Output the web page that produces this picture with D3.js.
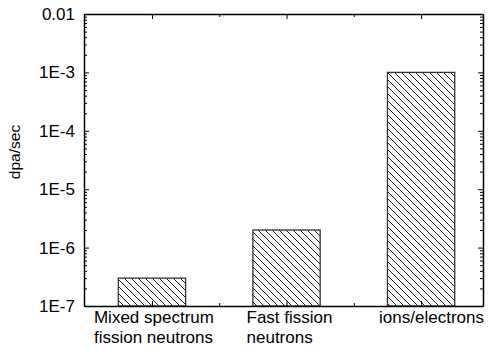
<!DOCTYPE html>
<html>
<head>
<meta charset="utf-8">
<script src="https://cdnjs.cloudflare.com/ajax/libs/d3/7.8.5/d3.min.js"></script>
<style>
  body { margin: 0; background: #fff; }
  text { font-family: "Liberation Sans", Arial, sans-serif; fill: #000; }
</style>
</head>
<body>
<div id="chart"></div>
<script>
// data
const categories = [["Mixed spectrum", "fission neutrons"], ["Fast fission", "neutrons"], ["ions/electrons"]];
const positions = [1, 2, 3];
const values = [3e-7, 2e-6, 1e-3];
const yTickValues = [1e-7, 1e-6, 1e-5, 1e-4, 1e-3, 1e-2];
const yTickLabels = ["1E-7", "1E-6", "1E-5", "1E-4", "1E-3", "0.01"];
const yLabel = "dpa/sec";

const width = 488, height = 350;
const margin = { top: 14, right: 5, bottom: 44, left: 84 };
const w = width - margin.left - margin.right;
const h = height - margin.top - margin.bottom;

const svg = d3.select('#chart').append('svg')
  .attr('width', width)
  .attr('height', height);

const defs = svg.append('defs');
const pat = defs.append('pattern')
  .attr('id', 'hatch')
  .attr('patternUnits', 'userSpaceOnUse')
  .attr('width', 7).attr('height', 7);
pat.append('rect').attr('width', 7).attr('height', 7).attr('fill', '#fff');
pat.append('path')
  .attr('d', 'M-1,-1 L8,8 M-1,6 L1,8 M6,-1 L8,1')
  .attr('stroke', '#222')
  .attr('stroke-width', 1);

const g = svg.append('g')
  .attr('transform', 'translate(' + margin.left + ',' + margin.top + ')');

const x = d3.scaleLinear().domain([0.495, 3.46]).range([0, w]);
const y = d3.scaleLog().domain([1e-7, 1e-2]).range([h, 0]);

const barW = x(1.25) - x(0.75);

g.selectAll('.bar')
  .data(values)
  .enter().append('rect')
  .attr('class', 'bar')
  .attr('x', (d, i) => x(positions[i]) - barW / 2)
  .attr('y', d => y(d))
  .attr('width', barW)
  .attr('height', d => h - y(d))
  .attr('fill', 'url(#hatch)')
  .attr('stroke', '#333')
  .attr('stroke-width', 1.3);

// minor log ticks
const minor = [];
for (let e = -7; e < -2; e++) {
  for (let m = 2; m <= 9; m++) minor.push(m * Math.pow(10, e));
}

// left axis
const leftAx = g.append('g');
leftAx.call(d3.axisLeft(y).tickValues(yTickValues).tickFormat((d, i) => yTickLabels[i]).tickSizeInner(-5).tickSizeOuter(0).tickPadding(9));
leftAx.selectAll('.tick line').attr('stroke', '#000');
leftAx.selectAll('text').style('font-size', '17px');
leftAx.select('.domain').attr('stroke', '#000').attr('stroke-width', 1.5);
g.append('g').call(d3.axisLeft(y).tickValues(minor).tickFormat('').tickSizeInner(-3).tickSizeOuter(0))
  .call(s => s.select('.domain').remove());

// right axis
const rightAx = g.append('g').attr('transform', 'translate(' + w + ',0)');
rightAx.call(d3.axisRight(y).tickValues(yTickValues).tickFormat('').tickSizeInner(-5).tickSizeOuter(0));
rightAx.select('.domain').attr('stroke', '#000').attr('stroke-width', 1.5);
g.append('g').attr('transform', 'translate(' + w + ',0)')
  .call(d3.axisRight(y).tickValues(minor).tickFormat('').tickSizeInner(-3).tickSizeOuter(0))
  .call(s => s.select('.domain').remove());

// bottom axis
const xMinor = [1.5, 2.5];
const bottomAx = g.append('g').attr('transform', 'translate(0,' + h + ')');
bottomAx.call(d3.axisBottom(x).tickValues(positions).tickFormat('').tickSizeInner(-5).tickSizeOuter(0));
bottomAx.select('.domain').attr('stroke', '#000').attr('stroke-width', 1.5);
g.append('g').attr('transform', 'translate(0,' + h + ')')
  .call(d3.axisBottom(x).tickValues(xMinor).tickFormat('').tickSizeInner(-3).tickSizeOuter(0))
  .call(s => s.select('.domain').remove());

// top axis
const topAx = g.append('g');
topAx.call(d3.axisTop(x).tickValues(positions).tickFormat('').tickSizeInner(-5).tickSizeOuter(0));
topAx.select('.domain').attr('stroke', '#000').attr('stroke-width', 1.5);
g.append('g')
  .call(d3.axisTop(x).tickValues(xMinor).tickFormat('').tickSizeInner(-3).tickSizeOuter(0))
  .call(s => s.select('.domain').remove());

// category labels
const labelOffset = [-58, -40, -42];
categories.forEach((lines, i) => {
  const t = g.append('text')
    .attr('x', x(positions[i]) + labelOffset[i])
    .attr('y', h + 17)
    .style('font-size', '17px');
  lines.forEach((line, j) => {
    t.append('tspan')
      .attr('x', x(positions[i]) + labelOffset[i])
      .attr('dy', j === 0 ? 0 : 20)
      .text(line);
  });
});

// y label
svg.append('text')
  .attr('transform', 'translate(20,152) rotate(-90)')
  .attr('text-anchor', 'middle')
  .style('font-size', '15.5px')
  .text(yLabel);
</script>
</body>
</html>
